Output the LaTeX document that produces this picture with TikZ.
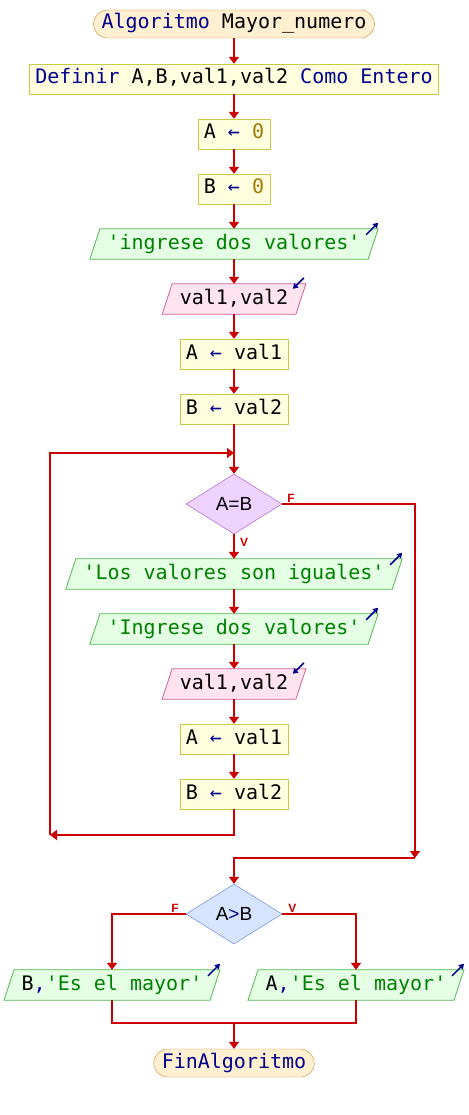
\documentclass[tikz,border=0pt]{standalone}
\usepackage{fontspec}
\setmainfont{Liberation Sans}
\setsansfont{Liberation Sans}
\setmonofont{DejaVu Sans Mono}
\usetikzlibrary{shapes.geometric, arrows.meta, positioning, backgrounds}
\definecolor{kwblue}{HTML}{00008B}
\definecolor{strgreen}{HTML}{008000}
\definecolor{numgold}{HTML}{A07800}
\definecolor{flowred}{HTML}{CC0000}
\definecolor{termfill}{HTML}{FFF0D2}
\definecolor{termline}{HTML}{C88A2E}
\definecolor{procfill}{HTML}{FFFFE0}
\definecolor{procline}{HTML}{C8C84A}
\definecolor{outfill}{HTML}{E4FFE4}
\definecolor{outline}{HTML}{50B850}
\definecolor{infill}{HTML}{FFE4F0}
\definecolor{inline}{HTML}{D0609A}
\definecolor{eqfill}{HTML}{EED2FF}
\definecolor{eqline}{HTML}{9A4FD0}
\definecolor{cmpfill}{HTML}{D6E4FF}
\definecolor{cmpline}{HTML}{5A78D8}
\newcommand{\kwd}[1]{\textcolor{kwblue}{#1}}
\newcommand{\strg}[1]{\textcolor{strgreen}{#1}}
\newcommand{\numv}[1]{\textcolor{numgold}{#1}}
\newcommand{\asg}{\textcolor{kwblue}{←}}
\tikzset{
	terminal/.style={
		rectangle,
		rounded corners=14pt,
		minimum height=28pt,
		inner xsep=8pt,
		draw=termline,
		fill=termfill,
		text height=14pt,
		text depth=4pt,
		font=\ttfamily\fontsize{20}{24}\selectfont
	},
	process/.style={
		rectangle,
		minimum height=30pt,
		inner xsep=6pt,
		draw=procline,
		fill=procfill,
		text height=14pt,
		text depth=4pt,
		font=\ttfamily\fontsize{20}{24}\selectfont
	},
	iobox/.style={
		rectangle,
		minimum height=30pt,
		inner xsep=12.5pt,
		text height=14pt,
		text depth=4pt,
		font=\ttfamily\fontsize{20}{24}\selectfont
	},
	slanted/.style={line width=0.8pt},
	decision/.style={
		diamond,
		aspect=1.6,
		minimum width=96pt,
		minimum height=60pt,
		inner sep=0pt,
		font=\sffamily\fontsize{19}{22}\selectfont
	},
	arrow/.style={line width=2.5pt, draw=flowred, -{Triangle[width=10pt,length=7pt]}},
	flow/.style={line width=2.5pt, draw=flowred},
	tag/.style={text=flowred, inner sep=1pt, font=\sffamily\bfseries\fontsize{12}{14}\selectfont},
	icon/.style={draw=kwblue, line width=1.5pt, -{Triangle[width=6pt,length=5pt]}}
}

\begin{document}
\begin{tikzpicture}[x=1pt, y=-1pt, node distance=55pt]
	\useasboundingbox (0,0) rectangle (468,1115);
	\node (start) [terminal] at (234,24) {\kwd{Algoritmo} Mayor\_numero};
	\node (define) [process, below of=start] {\kwd{Definir} A,B,val1,val2 \kwd{Como Entero}};
	\node (seta) [process, below of=define] {A \asg{} \numv{0}};
	\node (setb) [process, below of=seta] {B \asg{} \numv{0}};
	\node (askvals) [iobox, below of=setb] {\strg{'ingrese dos valores'}};
	\node (readvals) [iobox, below of=askvals] {val1,val2};
	\node (geta) [process, below of=readvals] {A \asg{} val1};
	\node (getb) [process, below of=geta] {B \asg{} val2};
	
	% loop
	\node (equal) [decision, draw=eqline, fill=eqfill, below of=getb, node distance=95pt] {A=B};
	\node (same) [iobox, below of=equal, node distance=70pt] {\strg{'Los valores son iguales'}};
	\node (askagain) [iobox, below of=same] {\strg{'Ingrese dos valores'}};
	\node (rereads) [iobox, below of=askagain] {val1,val2};
	\node (regeta) [process, below of=rereads] {A \asg{} val1};
	\node (regetb) [process, below of=regeta] {B \asg{} val2};
	
	% final choice
	\node (compare) [decision, draw=cmpline, fill=cmpfill, below of=regetb, node distance=120pt] {A\kwd{>}B};
	\node (showb) [iobox] at (112,985) {B\kwd{,}\strg{'Es el mayor'}};
	\node (showa) [iobox] at (356,985) {A\kwd{,}\strg{'Es el mayor'}};
	\node (finish) [terminal] at (234,1063) {\kwd{FinAlgoritmo}};
	
	% parallelograms behind the io nodes
	\begin{scope}[on background layer]
		\foreach \n in {askvals, same, askagain, showb, showa}
			\draw [slanted, draw=outline, fill=outfill] ([xshift=-5pt]\n.south west) -- ([xshift=5pt]\n.north west) -- ([xshift=5pt]\n.north east) -- ([xshift=-5pt]\n.south east) -- cycle;
		\foreach \n in {readvals, rereads}
			\draw [slanted, draw=inline, fill=infill] ([xshift=-5pt]\n.south west) -- ([xshift=5pt]\n.north west) -- ([xshift=5pt]\n.north east) -- ([xshift=-5pt]\n.south east) -- cycle;
	\end{scope}
	
	% branch labels
	\node (eqno) [tag, anchor=south west, xshift=4pt] at (equal.east) {F};
	\node (eqyes) [tag, anchor=north west, xshift=5pt, yshift=-3pt] at (equal.south) {V};
	\node (cmpno) [tag, anchor=south east, xshift=-6pt] at (compare.west) {F};
	\node (cmpyes) [tag, anchor=south west, xshift=5pt] at (compare.east) {V};
	
	\coordinate (loopleft) at (50,835);
	\coordinate (loopin) at (234,453);
	\coordinate (rightdown) at (415,858);
	\coordinate (join) at (234,1023);
	
	\draw [arrow] (start) -- (define);
	\draw [arrow] (define) -- (seta);
	\draw [arrow] (seta) -- (setb);
	\draw [arrow] (setb) -- (askvals);
	\draw [arrow] (askvals) -- (readvals);
	\draw [arrow] (readvals) -- (geta);
	\draw [arrow] (geta) -- (getb);
	\draw [arrow] (getb) -- (equal);
	\draw [arrow] (equal) -- (same);
	\draw [arrow] (same) -- (askagain);
	\draw [arrow] (askagain) -- (rereads);
	\draw [arrow] (rereads) -- (regeta);
	\draw [arrow] (regeta) -- (regetb);
	\draw [arrow] (regetb.south) |- (loopleft);
	\draw [arrow] (loopleft) |- (loopin);
	\draw [arrow] (equal.east) -| (rightdown);
	\draw [arrow] (rightdown) -| (compare.north);
	\draw [arrow] (compare.west) -| (showb.north);
	\draw [arrow] (compare.east) -| (showa.north);
	\draw [flow] (showb.south) |- (join);
	\draw [flow] (showa.south) |- (join);
	\draw [arrow] (join) -- (finish);
	
	% io marks
	\foreach \n in {askvals, same, askagain, showb, showa}
		\draw [icon] ([xshift=-7pt, yshift=-6pt]\n.north east) -- ++(12,-12);
	\foreach \n in {readvals, rereads}
		\draw [icon] ([xshift=3pt, yshift=6pt]\n.north east) -- ++(-11,11);
\end{tikzpicture}
\end{document}
